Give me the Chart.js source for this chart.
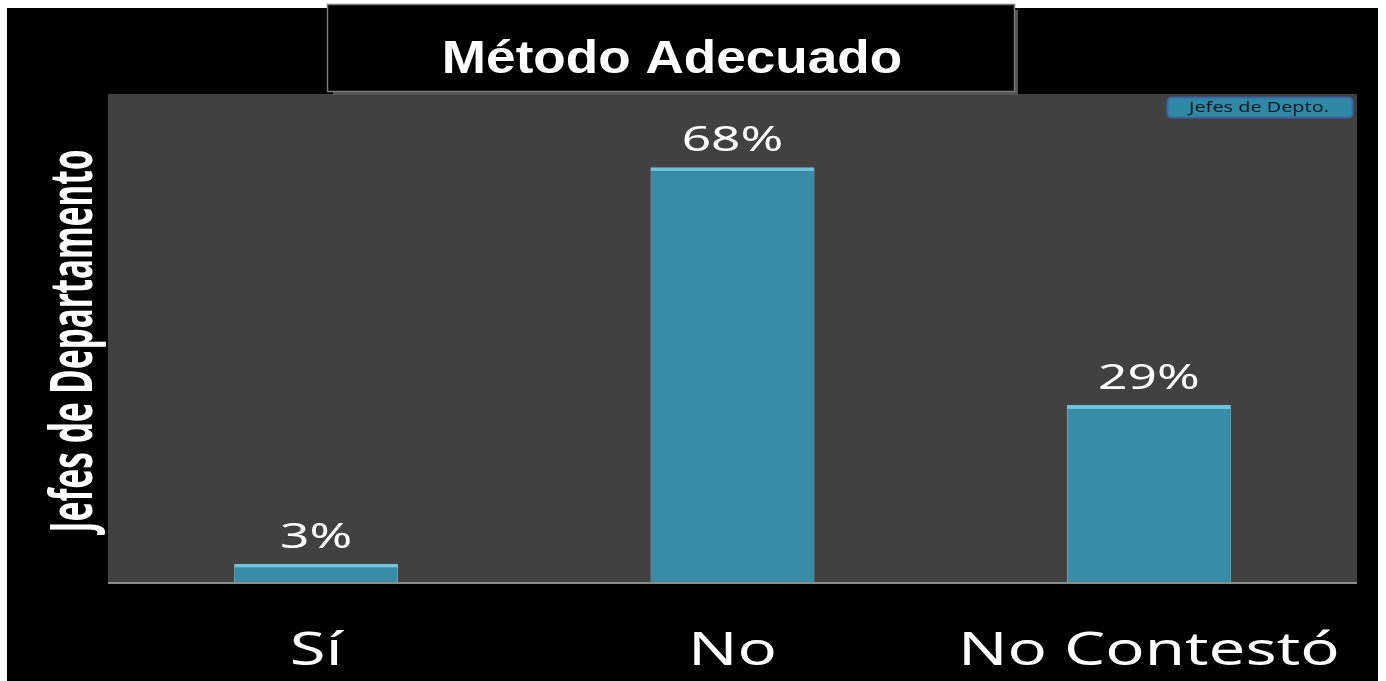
<!DOCTYPE html>
<html>
<head>
<meta charset="utf-8">
<script src="https://cdn.jsdelivr.net/npm/chart.js@4.4.0/dist/chart.umd.min.js"></script>
<style>
  html, body { margin: 0; padding: 0; background: #fff; overflow: hidden; }
</style>
</head>
<body>
<canvas id="chart" width="1386" height="681"></canvas>
<script>
const categories = ['Sí', 'No', 'No Contestó'];
const percentages = [3, 68, 29];
const seriesLabel = 'Jefes de Depto.';
const axisTitle = 'Jefes de Departamento';
const chartTitle = 'Método Adecuado';
const yMax = 80;

// text in the picture is stretched sideways, so draw it with a horizontal scale
function drawStretched(ctx, text, x, y, sx) {
  ctx.save();
  ctx.translate(x, y);
  ctx.scale(sx, 1);
  ctx.fillText(text, 0, 0);
  ctx.restore();
}

const decorations = {
  id: 'decorations',
  beforeDraw(chart) {
    const ctx = chart.ctx;
    const a = chart.chartArea;
    ctx.save();
    ctx.fillStyle = '#ffffff';
    ctx.fillRect(0, 0, chart.width, chart.height);
    ctx.fillStyle = '#000000';
    ctx.fillRect(7, 8, 1371, chart.height - 8);
    ctx.fillStyle = '#414141';
    ctx.fillRect(a.left, a.top, a.right - a.left, a.bottom - a.top);
    ctx.restore();
  },
  afterDatasetsDraw(chart) {
    const ctx = chart.ctx;
    const a = chart.chartArea;
    ctx.save();
    // baseline
    ctx.strokeStyle = '#8c8c8c';
    ctx.lineWidth = 2;
    ctx.beginPath();
    ctx.moveTo(a.left, a.bottom + 1);
    ctx.lineTo(a.right, a.bottom + 1);
    ctx.stroke();

    // value labels above bars
    ctx.fillStyle = '#ffffff';
    ctx.font = '35px "Noto Sans"';
    ctx.textAlign = 'center';
    ctx.textBaseline = 'alphabetic';
    const meta = chart.getDatasetMeta(0);
    meta.data.forEach((bar, i) => {
      drawStretched(ctx, percentages[i] + '%', bar.x, bar.y - 16, 1.47);
    });
    ctx.restore();
  },
  afterDraw(chart) {
    const ctx = chart.ctx;
    const xScale = chart.scales.x;
    ctx.save();

    // title box
    ctx.fillStyle = '#555555';
    ctx.fillRect(1015, 10, 3, 85);
    ctx.fillRect(333, 92, 685, 3);
    ctx.fillStyle = '#000000';
    ctx.fillRect(327, 4, 688, 88);
    ctx.strokeStyle = '#7a7a7a';
    ctx.lineWidth = 1.5;
    ctx.strokeRect(327.5, 4.5, 687, 87);
    ctx.fillStyle = '#ffffff';
    ctx.font = 'bold 47px "Liberation Sans", Arial, sans-serif';
    ctx.textAlign = 'center';
    ctx.textBaseline = 'alphabetic';
    drawStretched(ctx, chartTitle, 672, 73, 1.13);

    // category labels
    ctx.font = '45px "Noto Sans"';
    categories.forEach((c, i) => {
      drawStretched(ctx, c, xScale.getPixelForValue(i), 665, 1.45);
    });

    // vertical axis title, condensed
    ctx.font = 'bold 59px "Noto Sans"';
    const w = ctx.measureText(axisTitle).width;
    ctx.save();
    ctx.translate(92, 341);
    ctx.rotate(-Math.PI / 2);
    ctx.scale(383 / w, 1);
    ctx.fillText(axisTitle, 0, 0);
    ctx.restore();

    // legend
    ctx.beginPath();
    ctx.roundRect(1167.5, 97.5, 185, 20, 4);
    ctx.fillStyle = '#2f89a5';
    ctx.fill();
    ctx.strokeStyle = '#3a64a6';
    ctx.lineWidth = 2;
    ctx.stroke();
    ctx.fillStyle = '#0d1b24';
    ctx.font = '15px "Noto Sans"';
    ctx.textBaseline = 'middle';
    drawStretched(ctx, chart.data.datasets[0].label, 1259, 108, 1.32);

    ctx.restore();
  }
};

new Chart(document.getElementById('chart'), {
  type: 'bar',
  data: {
    labels: categories,
    datasets: [{
      label: seriesLabel,
      data: percentages,
      backgroundColor: '#388ca8',
      borderColor: '#6cc3de',
      borderWidth: { top: 4, left: 1, right: 1, bottom: 0 },
      barPercentage: 0.394,
      categoryPercentage: 1
    }]
  },
  options: {
    responsive: false,
    animation: false,
    devicePixelRatio: 1,
    layout: { padding: { left: 108, right: 29, top: 94, bottom: 99 } },
    scales: {
      x: { display: false },
      y: { display: false, min: 0, max: yMax }
    },
    plugins: {
      legend: { display: false },
      tooltip: { enabled: false },
      title: { display: false }
    }
  },
  plugins: [decorations]
});
</script>
</body>
</html>
